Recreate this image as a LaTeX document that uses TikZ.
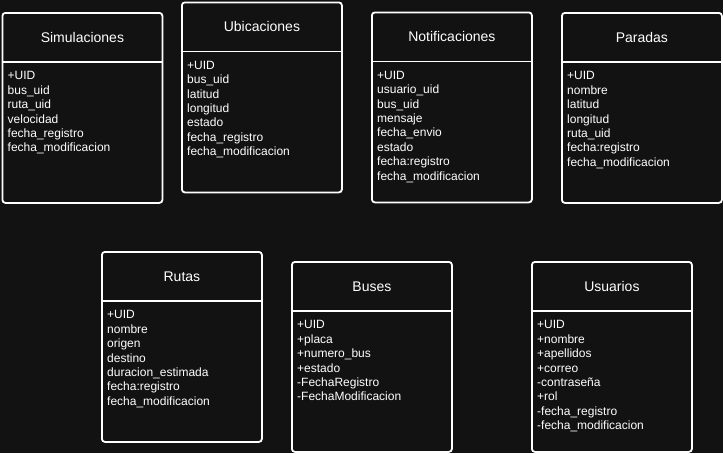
\documentclass[tikz,border=0pt]{standalone}
\usepackage{fontspec}
\setmainfont{Liberation Sans}
\definecolor{bgc}{HTML}{121212}
\tikzset{
  entity/.style={draw=white, line width=1.8pt, rounded corners=3pt, fill=bgc,
    minimum width=160pt, minimum height=190pt, inner sep=0pt, anchor=north west},
  titletext/.style={text=white, inner sep=0pt, font=\fontsize{14}{16.8}\selectfont,
    text height=10pt, text depth=0pt, anchor=center},
  bodytext/.style={text=white, inner sep=0pt, align=left, anchor=north west,
    font=\fontsize{12}{14.4}\selectfont},
  divider/.style={draw=white, line width=1.8pt}
}
\newcommand{\entidad}[5]{%
  \node[entity] (#1) at (#2,-#3) {};
  \node[titletext] (#1-t) at ([yshift=-25pt]#1.north) {#4};
  \coordinate (#1-dl) at ([yshift=-50pt]#1.north west);
  \coordinate (#1-dr) at ([yshift=-50pt]#1.north east);
  \draw[divider] (#1-dl) -- (#1-dr);
  \node[bodytext] (#1-b) at ([xshift=6pt,yshift=-7.6pt]#1-dl) {\rule{0pt}{10pt}#5};
}
\begin{document}
\begin{tikzpicture}[x=1pt,y=1pt]
\fill[bgc] (0,0) rectangle (723,-453);
\useasboundingbox (0,0) rectangle (723,-453);
\entidad{sim}{1.5}{12}{Simulaciones}{+UID\\bus\_uid\\ruta\_uid\\velocidad\\fecha\_registro\\fecha\_modificacion}
\entidad{ubi}{181}{1.5}{Ubicaciones}{+UID\\bus\_uid\\latitud\\longitud\\estado\\fecha\_registro\\fecha\_modificacion}
\entidad{noti}{371}{11.5}{Notificaciones}{+UID\\usuario\_uid\\bus\_uid\\mensaje\\fecha\_envio\\estado\\fecha:registro\\fecha\_modificacion}
\entidad{par}{561}{12}{Paradas}{+UID\\nombre\\latitud\\longitud\\ruta\_uid\\fecha:registro\\fecha\_modificacion}
\entidad{rut}{101}{251}{Rutas}{+UID\\nombre\\origen\\destino\\duracion\_estimada\\fecha:registro\\fecha\_modificacion}
\entidad{bus}{291}{261}{Buses}{+UID\\+placa\\+numero\_bus\\+estado\\-FechaRegistro\\-FechaModificacion}
\entidad{usu}{531}{261}{Usuarios}{+UID\\+nombre\\+apellidos\\+correo\\-contraseña\\+rol\\-fecha\_registro\\-fecha\_modificacion}
\end{tikzpicture}
\end{document}
